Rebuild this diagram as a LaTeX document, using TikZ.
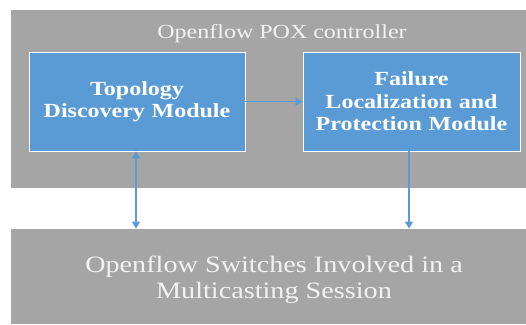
\documentclass[tikz,border=0pt]{standalone}
\usepackage{fontspec}
\setmainfont{Liberation Serif}[FakeStretch=1.2]
\usetikzlibrary{positioning,arrows.meta}
\definecolor{panelgray}{HTML}{A5A5A5}
\definecolor{moduleblue}{HTML}{5B9BD5}
\definecolor{paletext}{HTML}{F2F2F2}

\begin{document}
\begin{tikzpicture}[x=1pt,y=1pt]
  \useasboundingbox (0,0) rectangle (526,324);
  \begin{scope}[
    panel/.style={
      rectangle,
      fill=panelgray,
      inner sep=0pt,
      minimum width=515pt,
    },
    module/.style={
      rectangle,
      fill=moduleblue,
      draw=white,
      line width=0.8pt,
      minimum width=216pt,
      minimum height=99pt,
      text width=205pt,
      align=center,
      text=white,
      font=\fontsize{20}{22.4}\selectfont\bfseries,
    },
    ]
    % controller
    \node [panel,minimum height=178pt,anchor=north west] (ctrl) at (11,314) {};
    \node [text=paletext,font=\fontsize{20}{22}\selectfont,anchor=base] (ctrltitle) at (282,285.5)
    {Openflow POX controller};

    % topology
    \node [module] (topo) at (137,222.5) {Topology\\Discovery Module};

    % failure
    \node [module,minimum width=217pt] (fail) at (411.5,222.5)
    {Failure\\Localization and\\Protection Module};

    % switches
    \node [panel,minimum height=95pt,anchor=south west] (sw) at (11,0) {};
    \node [text=paletext,align=center,font=\fontsize{23.5}{26}\selectfont] (swtext) at (274,44)
    {Openflow Switches Involved in a\\Multicasting Session};
  \end{scope}
  \begin{scope}[
    link/.style={
      draw=moduleblue,
      line width=1.1pt,
      -{Triangle[length=7pt,width=8pt]},
    },
    ]
    \draw [link] (topo.east) -- (fail.west);
    \draw [link,{Triangle[length=7pt,width=8pt]}-{Triangle[length=7pt,width=8pt]}]
      ([xshift=-1pt]topo.south) -- ([xshift=-1pt]topo.south |- sw.north);
    \draw [link] ([xshift=-2.5pt]fail.south) -- ([xshift=-2.5pt]fail.south |- sw.north);
  \end{scope}
\end{tikzpicture}
\end{document}
